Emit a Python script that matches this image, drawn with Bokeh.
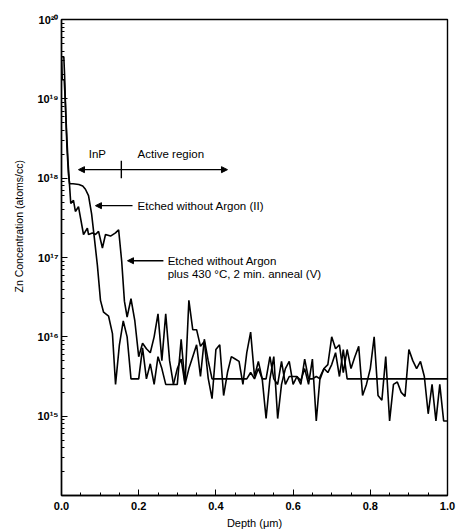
import numpy as np
from bokeh.plotting import figure
from bokeh.models import (Range1d, FixedTicker, NumeralTickFormatter,
                          CustomJSTickFormatter, Label, Arrow, NormalHead, Title)
from bokeh.embed import file_html
from bokeh.resources import INLINE

# ---------------- data ----------------
# Etched without Argon (II): depth (um) and log10 of Zn concentration (atoms/cc)
ii_depth = [0.000, 0.006, 0.008, 0.011, 0.014, 0.018, 0.021, 0.030, 0.045, 0.055,
            0.062, 0.070, 0.078, 0.085, 0.093, 0.101, 0.109, 0.122, 0.132, 0.140,
            0.150,
            0.16, 0.17, 0.18, 0.19, 0.20, 0.21, 0.22, 0.23, 0.24, 0.25,
            0.26, 0.27, 0.28, 0.29, 0.30, 0.31, 0.32, 0.33, 0.34, 0.35,
            0.36, 0.37, 0.38, 0.39, 0.40, 0.41, 0.42, 0.43, 0.44, 0.45,
            0.46, 0.47, 0.48, 0.49, 0.50, 0.51, 0.52, 0.53, 0.54, 0.55,
            0.56, 0.57, 0.58, 0.59, 0.60, 0.61, 0.62, 0.63, 0.64, 0.65,
            0.66, 0.67, 0.68, 0.69, 0.70, 0.71, 0.72, 0.73, 0.74, 0.75,
            0.76, 0.77, 0.78, 0.79, 0.80, 0.81, 0.82, 0.83, 0.84, 0.85,
            0.86, 0.87, 0.88, 0.89, 0.90, 0.91, 0.92, 0.93, 0.94, 0.95,
            0.96, 0.97, 0.98, 0.99, 1.00]
ii_log10 = [19.53, 19.53, 19.30, 18.80, 18.40, 18.05, 17.93, 17.93, 17.92, 17.90,
            17.86, 17.78, 17.55, 17.25, 16.90, 16.46, 16.31, 16.26, 16.04, 15.40,
            15.90,
            16.20, 16.00, 15.47, 15.47, 15.47, 15.86, 15.47, 15.66, 15.40, 15.75,
            15.60, 15.40, 15.40, 15.40, 15.60, 15.72, 15.40, 15.60, 15.75, 15.90,
            15.50, 15.97, 15.70, 15.47, 15.47, 15.47, 15.47, 15.47, 15.47, 15.47,
            15.47, 15.47, 15.47, 15.55, 15.47, 15.60, 15.47, 15.47, 15.75, 15.47,
            15.40, 15.69, 15.40, 15.50, 15.50, 15.50, 15.40, 15.72, 15.47, 15.47,
            15.50, 15.47, 15.60, 15.55, 15.65, 15.80, 15.50, 15.84, 15.47, 15.47,
            15.47, 15.47, 15.47, 15.47, 15.47, 15.47, 15.47, 15.47, 15.47, 15.47,
            15.47, 15.47, 15.47, 15.47, 15.47, 15.47, 15.47, 15.47, 15.47, 15.47,
            15.47, 15.47, 15.47, 15.47, 15.47]

# Etched without Argon plus 430 C, 2 min. anneal (V)
v_depth = [0.000, 0.002, 0.007, 0.010, 0.013, 0.017, 0.021, 0.024, 0.031, 0.036,
           0.044, 0.057, 0.067, 0.070, 0.080, 0.088, 0.096, 0.106, 0.114, 0.127,
           0.140, 0.148, 0.156, 0.163,
           0.17, 0.18, 0.19, 0.20, 0.21, 0.22, 0.23, 0.24, 0.25,
           0.26, 0.27, 0.28, 0.29, 0.30, 0.31, 0.32, 0.33, 0.34, 0.35,
           0.36, 0.37, 0.38, 0.39, 0.40, 0.41, 0.42, 0.43, 0.44, 0.45,
           0.46, 0.47, 0.48, 0.49, 0.50, 0.51, 0.52, 0.53, 0.54, 0.55,
           0.56, 0.57, 0.58, 0.59, 0.60, 0.61, 0.62, 0.63, 0.64, 0.65,
           0.66, 0.67, 0.68, 0.69, 0.70, 0.71, 0.72, 0.73, 0.74, 0.75,
           0.76, 0.77, 0.78, 0.79, 0.80, 0.81, 0.82, 0.83, 0.84, 0.85,
           0.86, 0.87, 0.88, 0.89, 0.90, 0.91, 0.92, 0.93, 0.94, 0.95,
           0.96, 0.97, 0.98, 0.99, 1.00]
v_log10 = [19.53, 19.24, 19.24, 18.95, 18.60, 18.20, 17.90, 17.68, 17.72, 17.58,
           17.64, 17.29, 17.37, 17.29, 17.31, 17.29, 17.33, 17.12, 17.29, 17.27,
           17.31, 17.35, 16.95, 16.45,
           16.25, 16.48, 16.20, 15.75, 15.92, 15.85, 15.80, 16.00, 16.29,
           15.70, 16.29, 15.70, 15.40, 15.40, 15.97, 15.40, 16.46, 16.09, 16.09,
           15.88, 15.94, 15.48, 15.22, 15.84, 15.90, 15.26, 15.55, 15.75, 15.72,
           15.69, 15.40, 15.80, 16.06, 15.50, 15.69, 15.47, 14.97, 15.47, 15.75,
           14.97, 15.40, 15.60, 15.69, 15.40, 15.50, 15.45, 15.60, 15.40, 15.72,
           14.94, 15.50, 15.60, 15.65, 16.00, 15.85, 15.90, 15.55, 15.84, 15.60,
           15.75, 15.88, 15.26, 15.40, 15.60, 16.00, 15.26, 15.20, 15.75, 14.94,
           15.40, 15.43, 15.30, 15.25, 15.84, 15.70, 15.60, 15.69, 15.50, 15.03,
           15.40, 14.94, 15.40, 14.94, 14.94]

y_major = [1e15, 1e16, 1e17, 1e18, 1e19, 1e20]
y_minor = [m * 10.0 ** e for e in range(14, 20) for m in range(2, 10)]

FONT = "Liberation Sans"
ANN = "11.5px"

p = figure(width=457, height=531, y_axis_type="log",
           x_range=Range1d(0.0, 1.0), y_range=Range1d(1e14, 1e20),
           output_backend="svg", toolbar_location=None,
           min_border_left=61, min_border_right=10,
           min_border_top=19, min_border_bottom=33)
p.grid.visible = False
p.background_fill_color = "white"
p.border_fill_color = "white"
p.outline_line_color = "black"
p.outline_line_width = 1.4

# x axis
p.xaxis.ticker = FixedTicker(ticks=[0.0, 0.2, 0.4, 0.6, 0.8, 1.0],
                             minor_ticks=[0.05 * i for i in range(21)])
p.xaxis.formatter = NumeralTickFormatter(format="0.0")
p.xaxis.axis_label = "Depth (μm)"
p.xaxis.axis_label_text_font = FONT
p.xaxis.axis_label_text_font_size = "11px"
p.xaxis.axis_label_text_font_style = "normal"
p.xaxis.axis_label_text_color = "black"
p.xaxis.axis_label_standoff = 4
p.xaxis.major_label_text_font = FONT
p.xaxis.major_label_text_font_size = "11px"
p.xaxis.major_label_text_font_style = "bold"
p.xaxis.major_label_standoff = 6

# y axis
p.yaxis.ticker = FixedTicker(ticks=y_major, minor_ticks=y_minor)
p.yaxis.formatter = CustomJSTickFormatter(code="""
const e = Math.round(Math.log10(tick));
const sup = {'0':'\u2070','1':'\u00b9','2':'\u00b2','3':'\u00b3','4':'\u2074',
             '5':'\u2075','6':'\u2076','7':'\u2077','8':'\u2078','9':'\u2079'};
return '10' + String(e).split('').map(c => sup[c]).join('');
""")
p.yaxis.major_label_text_font = FONT
p.yaxis.major_label_text_font_size = "11px"
p.yaxis.major_label_text_font_style = "bold"
p.yaxis.major_label_standoff = 3

for ax in (p.xaxis, p.yaxis):
    ax.axis_line_color = "black"
    ax.axis_line_width = 1.4
    ax.major_tick_in = 6
    ax.major_tick_out = 0
    ax.minor_tick_in = 3
    ax.minor_tick_out = 0
    ax.major_tick_line_color = "black"
    ax.minor_tick_line_color = "black"
    ax.major_label_text_color = "black"

# y axis title, placed like the original (above the frame centre)
p.add_layout(Title(text="Zn Concentration (atoms/cc)", align="left", offset=203,
                   vertical_align="middle", standoff=18,
                   text_font=FONT, text_font_size="10.5px", text_font_style="normal",
                   text_color="black"), "left")

# curves
p.line(ii_depth, 10.0 ** np.array(ii_log10), line_color="black", line_width=1.6)
p.line(v_depth, 10.0 ** np.array(v_log10), line_color="black", line_width=1.6)

def head():
    return NormalHead(size=6, fill_color="black", line_color="black", line_width=1)

# InP / Active region markers
arrow_y = 1.28e18
p.add_layout(Arrow(end=head(), x_start=0.155, y_start=arrow_y, x_end=0.044, y_end=arrow_y,
                   line_color="black", line_width=1.3))
p.add_layout(Arrow(end=head(), x_start=0.155, y_start=arrow_y, x_end=0.43, y_end=arrow_y,
                   line_color="black", line_width=1.3))
p.segment(x0=[0.155], y0=[1.0e18], x1=[0.155], y1=[1.66e18], line_color="black", line_width=1.4)
p.add_layout(Label(x=0.093, y=2.0e18, text="InP", text_align="center", text_baseline="middle",
                   text_font=FONT, text_font_size=ANN, text_color="black"))
p.add_layout(Label(x=0.197, y=2.0e18, text="Active region", text_align="left",
                   text_baseline="middle", text_font=FONT, text_font_size=ANN,
                   text_color="black"))

# curve labels
p.add_layout(Arrow(end=head(), x_start=0.184, y_start=4.5e17, x_end=0.088, y_end=4.5e17,
                   line_color="black", line_width=1.3))
p.add_layout(Label(x=0.197, y=4.5e17, text="Etched without Argon (II)", text_align="left",
                   text_baseline="middle", text_font=FONT, text_font_size=ANN,
                   text_color="black"))
p.add_layout(Arrow(end=head(), x_start=0.264, y_start=9.1e16, x_end=0.171, y_end=9.1e16,
                   line_color="black", line_width=1.3))
p.add_layout(Label(x=0.275, y=9.1e16, text="Etched  without Argon", text_align="left",
                   text_baseline="middle", text_font=FONT, text_font_size=ANN,
                   text_color="black"))
p.add_layout(Label(x=0.275, y=6.2e16, text="plus 430 °C, 2 min. anneal (V)", text_align="left",
                   text_baseline="middle", text_font=FONT, text_font_size=ANN,
                   text_color="black"))

open("out.html", "w").write(file_html(p, INLINE))
